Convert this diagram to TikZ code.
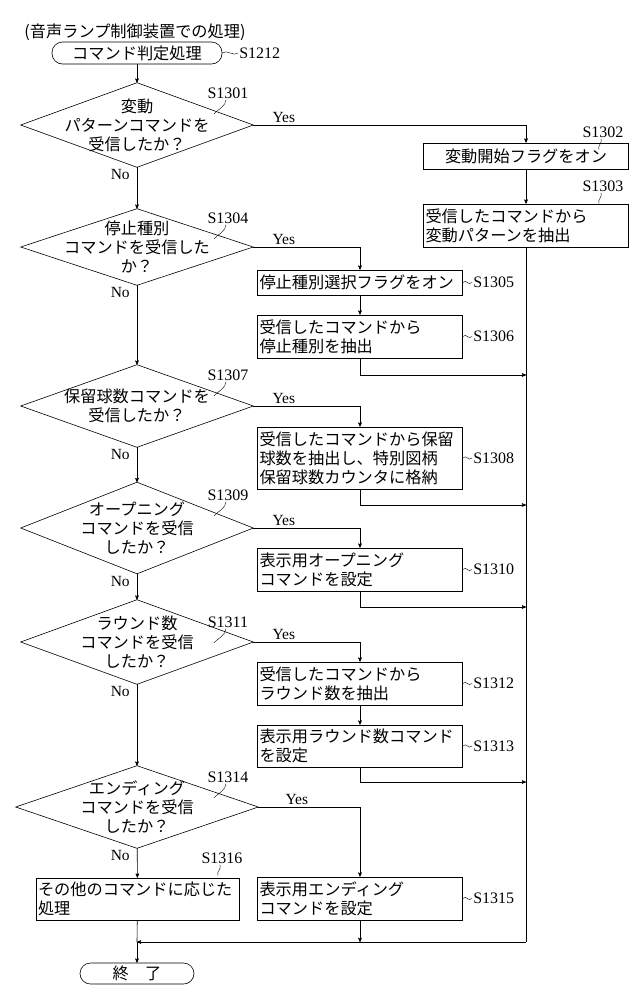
\documentclass[tikz,border=0pt]{standalone}
\usepackage{fontspec}
\setmainfont{Liberation Serif}
\newfontfamily\jp{Noto Sans CJK JP}
\usepackage{tikz}
\usetikzlibrary{arrows}
\tikzstyle{jtext}=[font=\jp\fontsize{16.2}{19}\selectfont]
\tikzstyle{proc}=[draw,jtext,inner sep=2pt,text width=201pt,align=left,minimum height=26pt]
\tikzstyle{term}=[draw,jtext,rounded corners=10.5pt,minimum height=22pt,inner sep=2pt]
\tikzstyle{cond}=[jtext,inner sep=0pt,align=center,minimum width=232pt]
\tikzstyle{stepno}=[font=\fontsize{16}{17}\selectfont,inner sep=1pt]
\tikzstyle{yn}=[font=\fontsize{15.5}{17}\selectfont,inner sep=1pt]
\tikzstyle{edge}=[draw,-]
\tikzstyle{arr}=[draw,->,>=stealth']

\begin{document}
\begin{tikzpicture}[x=1pt,y=-1pt,semithick]
        \useasboundingbox (0,0) rectangle (640,1002);
        \node[jtext] (title) at (135,32) {(音声ランプ制御装置での処理)};
        \node[term,minimum width=170pt] (start) at (137,53) {コマンド判定処理};
        \node[stepno,anchor=west] (s1212) at (238,53) {S1212};
        % decisions
        \node[cond,minimum height=84pt] (d1) at (137,125) {変動\\パターンコマンドを\\受信したか？};
        \node[cond,minimum height=76pt] (d2) at (137,247) {停止種別\\コマンドを受信した\\か？};
        \node[cond,minimum height=82pt] (d3) at (137,406) {保留球数コマンドを\\受信したか？};
        \node[cond,minimum height=91pt] (d4) at (137,528) {オープニング\\コマンドを受信\\したか？};
        \node[cond,minimum height=84pt] (d5) at (137,642) {ラウンド数\\コマンドを受信\\したか？};
        \node[cond,minimum height=82pt,minimum width=242pt] (d6) at (137,807) {エンディング\\コマンドを受信\\したか？};
        \foreach \d in {d1,d2,d3,d4,d5,d6}
          \draw (\d.north) -- (\d.east) -- (\d.south) -- (\d.west) -- cycle;
        % processes
        \node[proc,align=center] (b1302) at (526,156) {変動開始フラグをオン};
        \node[proc,minimum height=43pt] (b1303) at (526,225.5) {受信したコマンドから\\変動パターンを抽出};
        \node[proc,minimum height=25pt] (b1305) at (360,282.5) {停止種別選択フラグをオン};
        \node[proc,minimum height=43pt] (b1306) at (360,336.5) {受信したコマンドから\\停止種別を抽出};
        \node[proc,minimum height=62pt] (b1308) at (360,458) {受信したコマンドから保留\\球数を抽出し、特別図柄\\保留球数カウンタに格納};
        \node[proc,minimum height=43pt] (b1310) at (360,569.5) {表示用オープニング\\コマンドを設定};
        \node[proc,minimum height=43pt] (b1312) at (360,683.5) {受信したコマンドから\\ラウンド数を抽出};
        \node[proc,minimum height=42pt] (b1313) at (360,746) {表示用ラウンド数コマンド\\を設定};
        \node[proc,minimum height=43pt] (b1315) at (360,898.5) {表示用エンディング\\コマンドを設定};
        \node[proc,minimum height=42pt,text width=199pt] (b1316) at (137.5,899) {その他のコマンドに応じた\\処理};
        \node[term,minimum width=114pt,minimum height=21pt] (end) at (137,973.5) {終\quad 了};
        % merge points
        \coordinate (j) at (137,942);
        \coordinate (r) at (526,942);
        \coordinate (m1) at (526,375);
        \coordinate (m2) at (526,505);
        \coordinate (m3) at (526,607);
        \coordinate (m4) at (526,782);
        % step labels
        \node[stepno] (s1301) at (228,93) {S1301};
        \node[stepno] (s1304) at (228,218) {S1304};
        \node[stepno] (s1307) at (228,375) {S1307};
        \node[stepno] (s1309) at (228,495) {S1309};
        \node[stepno] (s1311) at (228,622) {S1311};
        \node[stepno] (s1314) at (228,777) {S1314};
        \node[stepno] (s1316) at (222,858) {S1316};
        \node[stepno] (s1302) at (603,132) {S1302};
        \node[stepno] (s1303) at (603,186) {S1303};
        \node[stepno,anchor=west] (s1305) at (472,282.5) {S1305};
        \node[stepno,anchor=west] (s1306) at (472,336.5) {S1306};
        \node[stepno,anchor=west] (s1308) at (472,458) {S1308};
        \node[stepno,anchor=west] (s1310) at (472,569.5) {S1310};
        \node[stepno,anchor=west] (s1312) at (472,683.5) {S1312};
        \node[stepno,anchor=west] (s1313) at (472,746) {S1313};
        \node[stepno,anchor=west] (s1315) at (472,898.5) {S1315};
        \foreach \s/\e in {s1212/start,s1305/b1305,s1306/b1306,s1308/b1308,s1310/b1310,s1312/b1312,s1313/b1313,s1315/b1315}
          \draw[thin] (\e.east) .. controls +(4,-4) and +(-4,4) .. (\s.west);
        \foreach \s in {s1301,s1304,s1307,s1309,s1311,s1314}
          \draw[thin] (\s.south) ++(-2,0) .. controls +(0,6) and +(4,-4) .. ++(-12,14);
        \foreach \s in {s1302,s1303,s1316}
          \draw[thin] (\s.south) ++(-2,0) .. controls +(2,4) and +(-2,-4) .. ++(-2,11);
        % yes / no
        \foreach \d in {d1,d2,d3,d4,d5}
          \node[yn,anchor=south west] at ([xshift=18pt,yshift=1pt]\d.east) {Yes};
        \node[yn,anchor=south west] at ([xshift=26pt,yshift=1pt]d6.east) {Yes};
        \foreach \d in {d1,d2,d3,d4,d5,d6}
          \node[yn,anchor=north east] at ([xshift=-6pt,yshift=-1pt]\d.south) {No};
        % main line
        \draw[arr] (start) -- (d1);
        \draw[arr] (d1) -- (d2);
        \draw[arr] (d2) -- (d3);
        \draw[arr] (d3) -- (d4);
        \draw[arr] (d4) -- (d5);
        \draw[arr] (d5) -- (d6);
        \draw[arr] (d6) -- (b1316);
        \draw[edge] (b1316) -- (j);
        \draw[arr] (j) -- (end);
        % yes branches
        \draw[arr] (d1.east) -| (b1302.north);
        \draw[arr] (b1302) -- (b1303);
        \draw[edge] (b1303.south) -- (r);
        \draw[arr] (r) -- (j);
        \draw[arr] (d2.east) -| (b1305.north);
        \draw[arr] (b1305) -- (b1306);
        \draw[arr] (b1306.south) |- (m1);
        \draw[arr] (d3.east) -| (b1308.north);
        \draw[arr] (b1308.south) |- (m2);
        \draw[arr] (d4.east) -| (b1310.north);
        \draw[arr] (b1310.south) |- (m3);
        \draw[arr] (d5.east) -| (b1312.north);
        \draw[arr] (b1312) -- (b1313);
        \draw[arr] (b1313.south) |- (m4);
        \draw[arr] (d6.east) -| (b1315.north);
        \draw[arr] (b1315.south) -- (b1315.south |- j);
      \end{tikzpicture}
\end{document}
